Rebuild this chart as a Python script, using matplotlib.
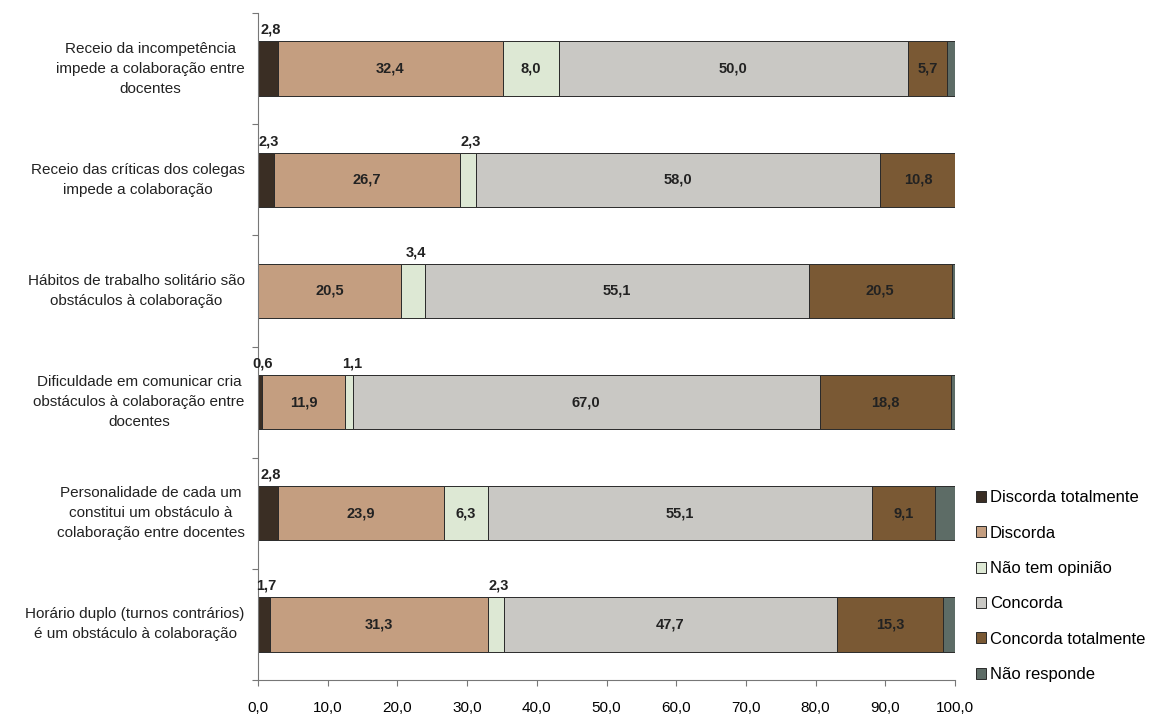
import matplotlib.pyplot as plt
import numpy as np

plt.rcParams['font.family'] = ['Liberation Sans', 'DejaVu Sans']

# Dados
categorias = [
    'Receio da incompetência\nimpede a colaboração entre\ndocentes',
    'Receio das críticas dos colegas\nimpede a colaboração',
    'Hábitos de trabalho solitário são\nobstáculos à colaboração',
    'Dificuldade em comunicar cria\nobstáculos à colaboração entre\ndocentes',
    'Personalidade de cada um\nconstitui um obstáculo à\ncolaboração entre docentes',
    'Horário duplo (turnos contrários)\né um obstáculo à colaboração',
]
series = ['Discorda totalmente', 'Discorda', 'Não tem opinião',
          'Concorda', 'Concorda totalmente', 'Não responde']
discorda_tot = [2.8, 2.3, 0.0, 0.6, 2.8, 1.7]
discorda = [32.4, 26.7, 20.5, 11.9, 23.9, 31.3]
sem_opiniao = [8.0, 2.3, 3.4, 1.1, 6.3, 2.3]
concorda = [50.0, 58.0, 55.1, 67.0, 55.1, 47.7]
concorda_tot = [5.7, 10.8, 20.5, 18.8, 9.1, 15.3]
nao_responde = [1.1, 0.0, 0.5, 0.6, 2.8, 1.7]

cores = ['#3a2e24', '#c49e80', '#dde8d4', '#c9c8c4', '#7a5934', '#5d6c66']
valores = [discorda_tot, discorda, sem_opiniao, concorda, concorda_tot, nao_responde]

fig = plt.figure(figsize=(11.68, 7.16), dpi=100)
ax = fig.add_axes([258 / 1168, 1 - 680 / 716, 697 / 1168, 667 / 716])

y = np.arange(len(categorias))
altura = 0.49
esquerda = np.zeros(len(categorias))
for s, (nome, vals, cor) in enumerate(zip(series, valores, cores)):
    vals = np.array(vals)
    ax.barh(y, vals, left=esquerda, height=altura, color=cor,
            edgecolor='#2a2a2a', linewidth=0.7, label=nome)
    if s < 5:
        for i, v in enumerate(vals):
            if v <= 0:
                continue
            txt = f'{v:.1f}'.replace('.', ',')
            if v >= 5:
                ax.text(esquerda[i] + v / 2, y[i], txt, ha='center', va='center',
                        fontsize=10.5, fontweight='bold', color='#222222')
            else:
                ax.text(esquerda[i] + v / 2 + 0.4, y[i] - altura / 2 - 0.04, txt,
                        ha='center', va='bottom', fontsize=10.5,
                        fontweight='bold', color='#222222')
    esquerda += vals

ax.set_xlim(0, 100)
ax.set_ylim(len(categorias) - 0.5, -0.5)
ax.set_xticks(np.arange(0, 101, 10))
ax.set_xticklabels([f'{t:.1f}'.replace('.', ',') for t in np.arange(0, 101, 10)],
                   fontsize=11)
ax.set_yticks(np.arange(-0.5, len(categorias), 1))
ax.set_yticklabels([])
ax.tick_params(axis='both', length=4, color='#777777', width=0.8)
ax.tick_params(axis='x', pad=11)

for i, cat in enumerate(categorias):
    ax.text(-1.9, y[i], cat, ha='right', va='center', multialignment='center',
            fontsize=11, linespacing=1.55, color='#222222')

for lado in ['top', 'right']:
    ax.spines[lado].set_visible(False)
for lado in ['left', 'bottom']:
    ax.spines[lado].set_color('#777777')
    ax.spines[lado].set_linewidth(0.8)

fig.legend(loc='upper left', bbox_to_anchor=(968 / 1168, 1 - 482 / 716),
           frameon=False, fontsize=12, handlelength=0.6, handleheight=0.65,
           handletextpad=0.2, labelspacing=1.22, borderpad=0)

fig.savefig('out.png', dpi=100)
